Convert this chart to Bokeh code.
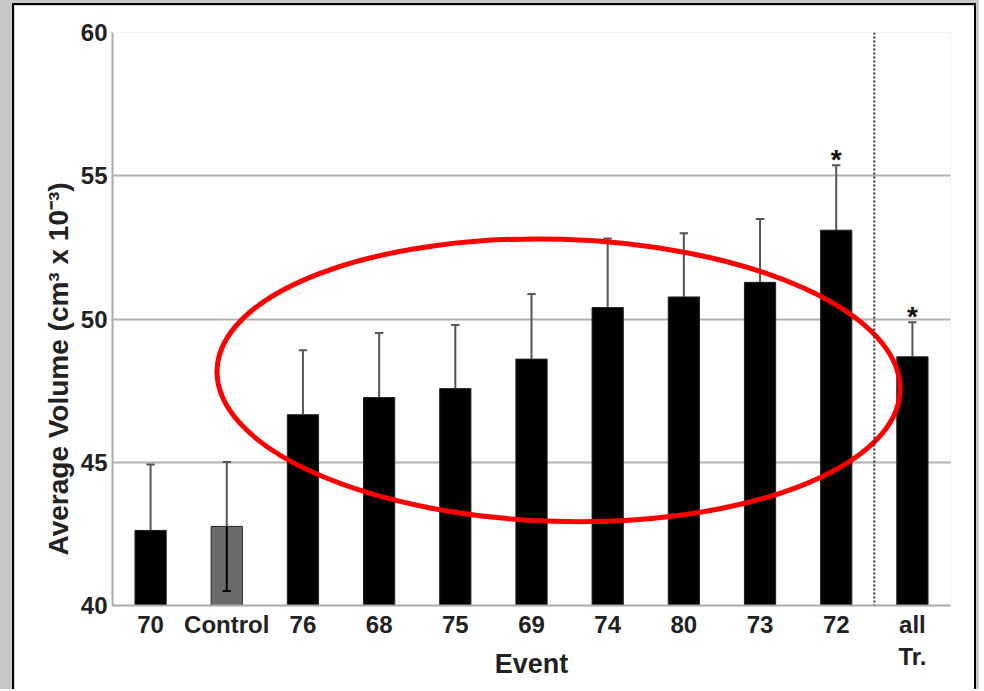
import math
from bokeh.plotting import figure
from bokeh.layouts import column
from bokeh.models import ColumnDataSource, FixedTicker, Span, Title
from bokeh.core.properties import value
from bokeh.embed import file_html
from bokeh.resources import INLINE

# ---- data ----
events = ["70", "Control", "76", "68", "75", "69", "74", "80", "73", "72", "all\nTr."]
means = [42.62, 42.76, 46.66, 47.26, 47.57, 48.60, 50.40, 50.77, 51.28, 53.10, 48.68]
errors = [2.30, 2.25, 2.25, 2.25, 2.22, 2.27, 2.41, 2.22, 2.21, 2.27, 1.21]
bar_colors = ["black", "#6b6b6b", "black", "black", "black", "black", "black",
              "black", "black", "black", "black"]
significant = [False, False, False, False, False, False, False, False, False, True, True]
y_ticks = [40, 45, 50, 55, 60]
separator_pos = 9.5
ellipse_cx, ellipse_cy, ellipse_w, ellipse_h = 5.355, 47.86, 8.97, 9.85

FONT = "Liberation Sans"
xs = list(range(len(events)))
src = ColumnDataSource(dict(
    x=xs, m=means, color=bar_colors,
    lo=[m - e for m, e in zip(means, errors)],
    hi=[m + e for m, e in zip(means, errors)],
    cl=[x - 0.055 for x in xs], cr=[x + 0.055 for x in xs],
))

p = figure(width=964, height=686, x_range=(-0.5, 10.5), y_range=(40, 60),
           output_backend="svg", toolbar_location=None,
           min_border_left=98, min_border_right=28, min_border_top=27,
           min_border_bottom=86,
           styles={"border-top": "2px solid black", "border-left": "2px solid black",
                   "border-right": "2px solid black"})
p.outline_line_color = None
p.background_fill_color = "white"
p.border_fill_color = "white"

p.vbar(x="x", top="m", bottom=40, width=0.41, fill_color="color",
       line_color="#222222", line_width=1, source=src)
# lower whisker in black (only visible through the grey control bar)
p.segment(x0="x", y0="lo", x1="x", y1="m", line_color="black", line_width=2, source=src)
p.segment(x0="cl", y0="lo", x1="cr", y1="lo", line_color="black", line_width=2, source=src)
# upper whisker
p.segment(x0="x", y0="m", x1="x", y1="hi", line_color="#555555", line_width=2, source=src)
p.segment(x0="cl", y0="hi", x1="cr", y1="hi", line_color="#555555", line_width=2, source=src)

sig_x = [x for x, s in zip(xs, significant) if s]
sig_y = [m + e for m, e, s in zip(means, errors, significant) if s]
p.text(x=sig_x, y=sig_y, text=["*"] * len(sig_x), text_align="center",
       text_baseline="alphabetic", text_font=value(FONT), text_font_style="bold",
       text_font_size="28px", text_color="#111111", y_offset=-6)

p.add_layout(Span(location=separator_pos, dimension="height", line_color="#333333",
                  line_width=2, line_dash="2 2"))

p.ellipse(x=[ellipse_cx], y=[ellipse_cy], width=[ellipse_w], height=[ellipse_h],
          angle=-0.03, fill_color=None, line_color="red", line_width=5)

# axes
p.xaxis.ticker = FixedTicker(ticks=xs)
p.xaxis.major_label_overrides = {i: e for i, e in enumerate(events)}
p.yaxis.ticker = FixedTicker(ticks=y_ticks)
for ax in (p.xaxis[0], p.yaxis[0]):
    ax.axis_line_color = "#aaaaaa"
    ax.axis_line_width = 2
    ax.major_tick_line_color = None
    ax.minor_tick_line_color = None
    ax.major_tick_out = 0
    ax.major_tick_in = 0
    ax.major_label_text_font = FONT
    ax.major_label_text_font_style = "bold"
    ax.major_label_text_font_size = "24px"
    ax.major_label_text_color = "#222222"
    ax.axis_label_text_font = FONT
    ax.axis_label_text_font_style = "bold"
    ax.axis_label_text_font_size = "27px"
    ax.axis_label_text_color = "#222222"
p.xaxis.major_label_standoff = 5
p.yaxis.major_label_standoff = 5
p.xaxis.axis_label = "Event"
p.xaxis.axis_label_standoff = -24

p.xgrid.grid_line_color = None
p.ygrid.ticker = FixedTicker(ticks=y_ticks)
p.ygrid.grid_line_color = "#b0b0b0"
p.ygrid.grid_line_width = 2

ytitle = Title(text="Average Volume (cm\u00b3 x 10\u207b\u00b3)", align="left",
               offset=50, standoff=8, text_font=FONT, text_font_style="bold",
               text_font_size="28px", text_color="#222222")
p.add_layout(ytitle, "left")

layout = column(p, styles={"background-color": "#c8c8c8", "padding": "3px 3px 0px 12px"})
open("out.html", "w").write(file_html(layout, INLINE))
